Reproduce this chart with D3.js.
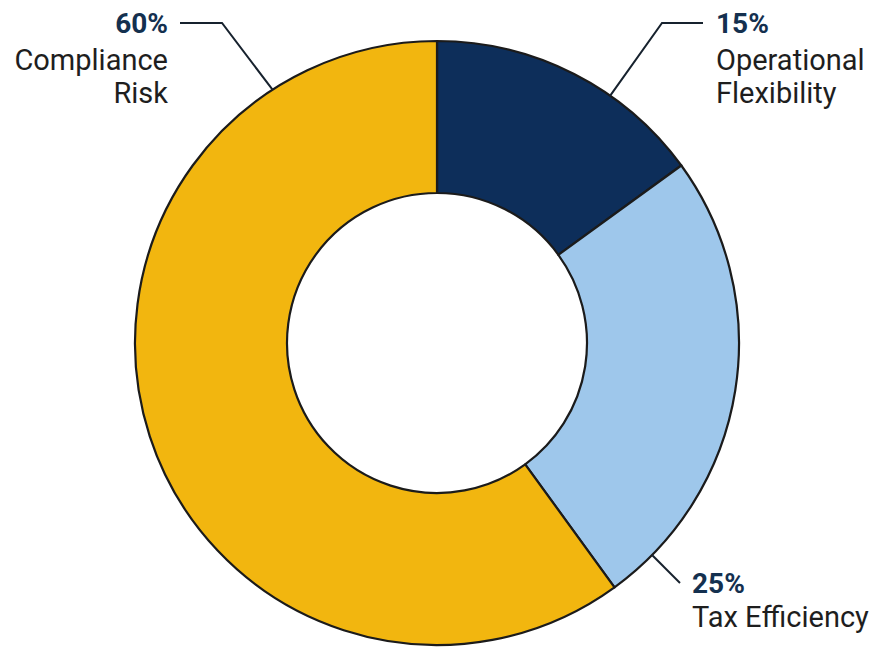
<!DOCTYPE html>
<html>
<head>
<meta charset="utf-8">
<script src="https://cdn.jsdelivr.net/npm/d3@7"></script>
<style>
  html, body { margin: 0; padding: 0; background: #fff; }
  svg { display: block; }
</style>
</head>
<body>
<svg id="chart"></svg>
<script>
'use strict';

const categories = ['Operational Flexibility', 'Tax Efficiency', 'Compliance Risk'];
const values = [15, 25, 60];
const labelLines = [['Operational', 'Flexibility'], ['Tax Efficiency'], ['Compliance', 'Risk']];
const colors = ['#0d2e5a', '#9ec7eb', '#f2b60f'];

(function () {
    const width = 879;
    const height = 647;
    const cx = 437;
    const cy = 343;
    const outerRadius = 302;
    const innerRadius = 150;

    // leader layout: angle where the line leaves the ring (deg from top),
    // elbow point and text anchor
    const leaders = [
        { angle: 35, elbow: [662, 23], end: [703, 23], text: [716, 33], anchor: 'start', gap: 37 },
        { angle: 134.6, elbow: [680, 583], end: null, text: [692, 593], anchor: 'start', gap: 34 },
        { angle: -33, elbow: [222, 23], end: [180, 23], text: [168, 33], anchor: 'end', gap: 37 }
    ];

    const svg = d3.select('#chart')
        .attr('width', width)
        .attr('height', height);

    const data = categories.map((c, i) => ({ name: c, val: values[i], lines: labelLines[i] }));

    const pie = d3.pie()
        .sort(null)
        .value(d => d.val);

    const arc = d3.arc()
        .innerRadius(innerRadius)
        .outerRadius(outerRadius);

    const g = svg.append('g')
        .attr('transform', 'translate(' + cx + ',' + cy + ')');

    g.selectAll('.slice')
        .data(pie(data))
        .enter().append('path')
        .attr('class', 'slice')
        .attr('d', arc)
        .attr('fill', (d, i) => colors[i])
        .attr('stroke', '#1b1b1b')
        .attr('stroke-width', 2.2)
        .attr('stroke-linejoin', 'round');

    const labels = svg.append('g');

    data.forEach((d, i) => {
        const l = leaders[i];
        const a = l.angle * Math.PI / 180;
        const p0 = [cx + outerRadius * Math.sin(a), cy - outerRadius * Math.cos(a)];
        const pts = [p0, l.elbow];
        if (l.end) pts.push(l.end);

        labels.append('path')
            .attr('d', d3.line()(pts))
            .attr('fill', 'none')
            .attr('stroke', '#17222e')
            .attr('stroke-width', 2);

        const t = labels.append('text')
            .attr('x', l.text[0])
            .attr('y', l.text[1])
            .attr('text-anchor', l.anchor)
            .attr('font-family', 'Roboto, sans-serif');

        t.append('tspan')
            .attr('x', l.text[0])
            .attr('font-size', '28px')
            .attr('font-weight', 700)
            .attr('fill', '#14304f')
            .text(d.val + '%');

        d.lines.forEach((line, j) => {
            t.append('tspan')
                .attr('x', l.text[0])
                .attr('dy', j === 0 ? l.gap : 33)
                .attr('font-size', '29px')
                .attr('fill', '#1e1e1e')
                .text(line);
        });
    });
}());
</script>
</body>
</html>
